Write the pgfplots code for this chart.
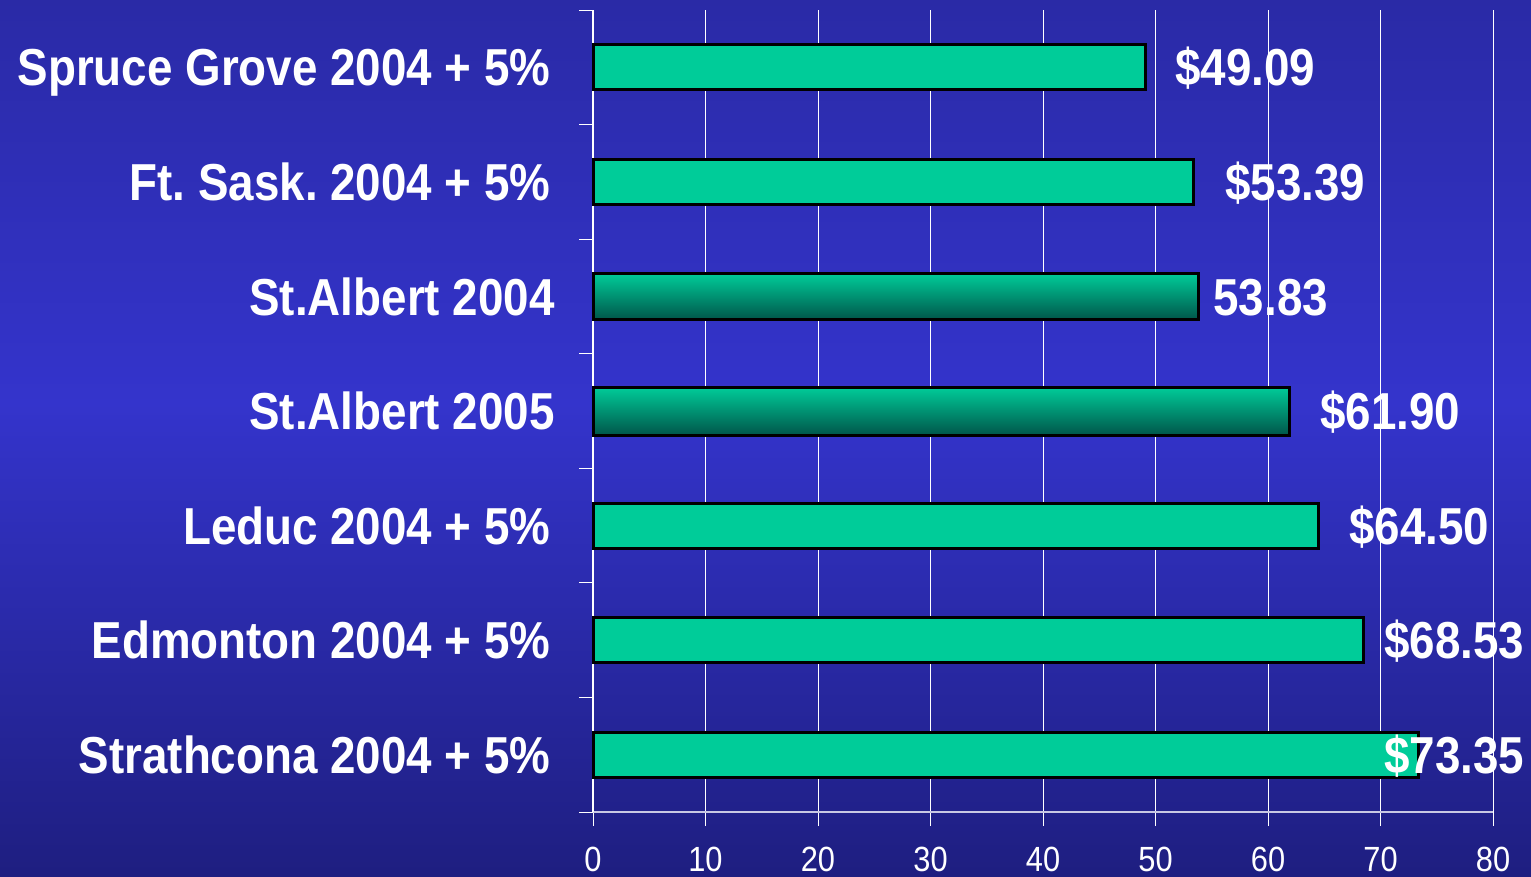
\documentclass[border=0pt]{standalone}
\usepackage{pgfplots}
\pgfplotsset{compat=1.18}
\usepackage{fontspec}
\setmainfont{Liberation Sans}[FakeStretch=0.88]
\definecolor{barg}{HTML}{00CC99}
\definecolor{bardark}{HTML}{00564A}
\definecolor{bgtop}{HTML}{2A2AA6}
\definecolor{bgmid}{HTML}{3434CC}
\definecolor{bgbot}{HTML}{1E1E80}
\definecolor{axisgray}{HTML}{C8C8E4}
\pgfdeclareverticalshading{bgshade}{100bp}{color(0bp)=(bgbot); color(25bp)=(bgbot); color(52bp)=(bgmid); color(75bp)=(bgtop); color(100bp)=(bgtop)}
\tikzset{lab/.style={anchor=west, inner sep=0pt, text height=18.6pt, text depth=0pt, text=white, font=\bfseries\fontsize{26}{26}\selectfont}}
\frenchspacing
\begin{document}
\begin{tikzpicture}
\useasboundingbox (0,0) rectangle (765.5pt,438.5pt);
\shade[shading=bgshade] (0,0) rectangle (765.5pt,438.5pt);
\begin{axis}[
  at={(296.5pt,32.5pt)}, anchor=south west,
  scale only axis, width=450pt, height=401pt,
  xmin=0, xmax=80, ymin=-0.5, ymax=6.5, y dir=reverse,
  clip=false,
  axis lines*=left,
  axis line style={-, white, line width=0.6pt},
  x axis line style={-, axisgray, line width=1.1pt},
  xtick={0,10,...,80},
  ytick={-0.5,0.5,...,6.5}, yticklabels={},
  tick align=outside, major tick length=7pt,
  tick style={white, line width=0.5pt},
  xmajorgrids, grid style={white, line width=0.5pt},
  /pgf/number format/assume math mode=true,
  xticklabel style={font=\fontsize{17.5}{17.5}\selectfont, text=white, inner sep=0pt, text height=12.5pt, text depth=0pt, yshift=-9.8pt},
  extra y ticks={0,1,2,3,4,5,6},
  extra y tick labels={Spruce Grove 2004 + 5\%, Ft. Sask. 2004 + 5\%, St.Albert 2004\kern-2pt, St.Albert 2005\kern-2pt, Leduc 2004 + 5\%, Edmonton 2004 + 5\%, Strathcona 2004 + 5\%},
  extra y tick style={major tick length=0pt, tick style={draw=none}},
  yticklabel style={font=\bfseries\fontsize{26}{26}\selectfont, text=white, anchor=east, inner sep=0pt, text height=18.6pt, text depth=0pt, xshift=-21pt},
]
\addplot[xbar, bar width=22.5pt, bar shift=0pt, fill=barg, draw=black, line width=1.5pt]
  coordinates {(49.09,0) (53.39,1) (64.50,4) (68.53,5) (73.35,6)};
\addplot[xbar, bar width=23pt, bar shift=0pt, top color=barg, bottom color=bardark, draw=black, line width=1.5pt]
  coordinates {(53.83,2)};
\addplot[xbar, bar width=24pt, bar shift=0pt, top color=barg, bottom color=bardark, draw=black, line width=1.5pt]
  coordinates {(61.90,3)};
\node[lab] at (axis cs:51.73,0) {\$49.09};
\node[lab] at (axis cs:56.18,1) {\$53.39};
\node[lab] at (axis cs:55.11,2) {53.83};
\node[lab] at (axis cs:64.62,3) {\$61.90};
\node[lab] at (axis cs:67.20,4) {\$64.50};
\node[lab] at (axis cs:70.31,5) {\$68.53};
\node[lab] at (axis cs:70.31,6) {\$73.35};
\end{axis}
\end{tikzpicture}
\end{document}
